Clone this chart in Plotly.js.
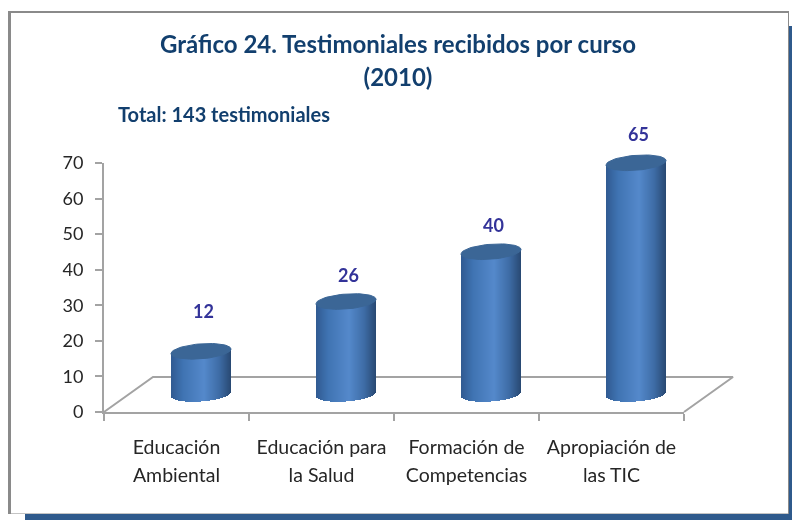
<!DOCTYPE html>
<html><head><meta charset="utf-8">
<script src="https://cdn.plot.ly/plotly-3.0.1.min.js"></script>
<style>html,body{margin:0;padding:0;background:#fff}#c{width:792px;height:520px;filter:blur(0.45px)}#c text{font-variant-ligatures:none}</style>
</head><body><div id="c"></div>
<script>
const categories = ["Educación<br>Ambiental", "Educación para<br>la Salud", "Formación de<br>Competencias", "Apropiación de<br>las TIC"];
const values = [12, 26, 40, 65];
const yTicks = [0, 10, 20, 30, 40, 50, 60, 70];
const titleText = "Gráfico 24. Testimoniales recibidos por curso<br>(2010)";
const totalText = "Total: 143 testimoniales";
const labelLift = [40, 27, 27, 29];

const W = 792, H = 520;
const FONT = "Lato, Carlito, 'Open Sans', sans-serif";
const NAVY = "#123f6e", GREY = "#a3a3a3", INK = "#262626";
const px = v => v / W, py = v => 1 - v / H;

// front plane: plot box in pixels
const L = 104, R = 684, Y0 = 412, Y70 = 163;
const catW = (R - L) / categories.length, unitH = (Y0 - Y70) / 70;
// depth of the floor in pixels (cylinders stand half way)
const depthX = 49, depthY = 35;
const midX = 24.5, midY = 18;
const halfW = 30, ellA = 7.5, ellTilt = 2.2;

// full-page overlay axes whose coordinates are category index / chart value
const planeX = (dx) => [(0 - L - dx) / catW - 0.5, (W - L - dx) / catW - 0.5];
const planeY = (dy) => [(Y0 - dy - H) / unitH, (Y0 - dy) / unitH];

const stops = [[0, [48, 90, 145]], [0.2, [63, 115, 178]], [0.55, [84, 137, 203]], [0.8, [62, 108, 166]], [1, [40, 72, 114]]];
const shade = t => {
  for (let i = 1; i < stops.length; i++) if (t <= stops[i][0]) {
    const a = stops[i - 1], b = stops[i], f = (t - a[0]) / (b[0] - a[0]);
    return "rgb(" + a[1].map((c, j) => Math.round(c + (b[1][j] - c) * f)).join(",") + ")";
  }
  return "rgb(40,72,114)";
};

// cylinder body as 1px strips, bottom edge follows the ellipse
const sx = [], sb = [], sy = [], sc = [];
values.forEach((v, i) => {
  for (let p = -halfW; p < halfW; p++) {
    const u = (p + 0.5) / halfW;
    const low = (ellTilt * u - ellA * Math.sqrt(1 - u * u)) / unitH;
    const up = (ellTilt * u) / unitH;
    sx.push(i + (p + 0.5) / catW);
    sb.push(low);
    sy.push(v + up - low);
    sc.push(shade((u + 1) / 2));
  }
});

// top caps
const capTraces = values.map((v, i) => {
  const xs = [], ys = [];
  for (let a = 0; a <= 64; a++) {
    const t = a / 64 * 2 * Math.PI;
    xs.push(i + halfW * Math.cos(t) / catW);
    ys.push(v + (ellTilt * Math.cos(t) + ellA * Math.sin(t)) / unitH);
  }
  return {type: "scatter", mode: "lines", x: xs, y: ys, fill: "toself", fillcolor: "#3b6696",
    line: {color: "#3b6696", width: 1}, xaxis: "x3", yaxis: "y3", hoverinfo: "skip", showlegend: false};
});

const traces = [
  {type: "bar", x: categories, y: values, marker: {color: "rgba(0,0,0,0)"}, xaxis: "x", yaxis: "y", showlegend: false, name: "Testimoniales"},
  {type: "scatter", mode: "lines", xaxis: "x2", yaxis: "y2", showlegend: false, hoverinfo: "skip",
    x: [-0.5, -0.5 + depthX / catW, 3.5 + depthX / catW, 3.5],
    y: [0, depthY / unitH, depthY / unitH, 0],
    line: {color: GREY, width: 2}},
  {type: "bar", x: sx, y: sy, base: sb, width: 1.15 / catW, marker: {color: sc, line: {width: 0}},
    xaxis: "x3", yaxis: "y3", showlegend: false, hoverinfo: "skip"},
  ...capTraces
];

const hidden = (extra) => Object.assign({visible: true, showgrid: false, zeroline: false, showline: false, showticklabels: false, ticks: "", fixedrange: true, type: "linear"}, extra);
const paperRect = (x0, y0, x1, y1, color) => ({type: "rect", xref: "paper", yref: "paper", x0: px(x0), x1: px(x1), y0: py(y1), y1: py(y0), fillcolor: color, line: {width: 0}, layer: "below"});

const layout = {
  width: W, height: H, autosize: false,
  margin: {l: 0, r: 0, t: 0, b: 0, pad: 0},
  paper_bgcolor: "#fff", plot_bgcolor: "rgba(0,0,0,0)",
  barmode: "overlay", bargap: 0, showlegend: false,
  font: {family: FONT, color: INK},
  title: {text: '<span style="font-size:24px">' + titleText + '</span>',
    font: {family: FONT, size: 25.4, color: NAVY, weight: 700},
    x: 398 / W, xanchor: "center", y: py(53), yanchor: "top", pad: {t: 0, b: 0, l: 0, r: 0}},
  xaxis: {type: "category", domain: [px(L), px(R)], anchor: "y", tickson: "boundaries",
    ticks: "outside", ticklen: 7, tickwidth: 2, tickcolor: GREY,
    showline: true, linecolor: GREY, linewidth: 2, showgrid: false, fixedrange: true,
    tickfont: {family: FONT, size: 21.5, color: INK}, ticklabelstandoff: 14, tickangle: 0,
    categoryorder: "array", categoryarray: categories,
    tickmode: "array", tickvals: categories,
    ticktext: categories.map(c => '<span style="font-size:19.5px">' + c + '</span>')},
  yaxis: {domain: [py(Y0), py(Y70)], anchor: "x", range: [0, 70], tickmode: "array", tickvals: yTicks,
    ticks: "outside", ticklen: 7, tickwidth: 2, tickcolor: GREY,
    showline: true, linecolor: GREY, linewidth: 2, showgrid: false, zeroline: false, fixedrange: true,
    tickfont: {family: FONT, size: 18, color: INK}, ticklabelstandoff: 8},
  xaxis2: hidden({domain: [0, 1], anchor: "y2", range: planeX(0)}),
  yaxis2: hidden({domain: [0, 1], anchor: "x2", range: planeY(0)}),
  xaxis3: hidden({domain: [0, 1], anchor: "y3", range: planeX(midX)}),
  yaxis3: hidden({domain: [0, 1], anchor: "x3", range: planeY(midY)}),
  annotations: [
    {xref: "paper", yref: "paper", x: px(116), y: py(114), xanchor: "left", yanchor: "middle", showarrow: false,
      text: totalText, font: {family: FONT, size: 20, color: NAVY, weight: 700}},
    ...values.map((v, i) => ({xref: "x3", yref: "y3", x: i, y: v, xshift: 2, yshift: labelLift[i], yanchor: "middle", xanchor: "center",
      showarrow: false, text: String(v), font: {family: FONT, size: 18, color: "#333399", weight: 700}}))
  ],
  shapes: [
    paperRect(25, 26, 792, 520, "#2f5a8c"),
    paperRect(8, 11, 789, 514, "#c4c4c4"),
    paperRect(8, 11, 789, 13, "#8a8a8a"),
    paperRect(8, 11, 11, 514, "#8a8a8a"),
    paperRect(788, 11, 789, 514, "#8a8a8a"),
    paperRect(11, 13, 788, 513, "#ffffff")
  ]
};
Plotly.newPlot("c", traces, layout, {displayModeBar: false, staticPlot: true});
</script></body></html>
